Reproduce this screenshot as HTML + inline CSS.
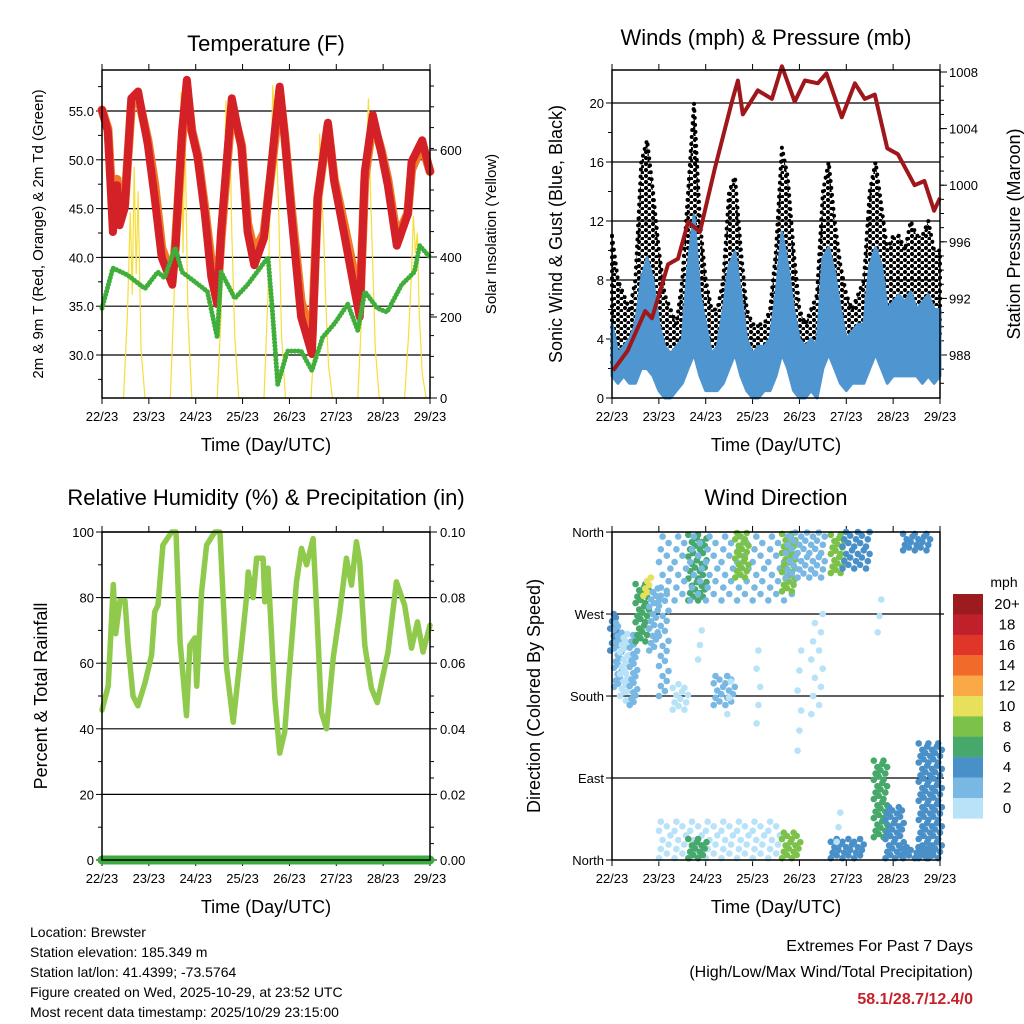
<!DOCTYPE html>
<html><head><meta charset="utf-8"><style>
html,body{margin:0;padding:0;background:#fff;}
svg{display:block;font-family:"Liberation Sans",sans-serif;}
</style></head><body>
<svg id="chart" width="1024" height="1024" viewBox="0 0 1024 1024" xmlns="http://www.w3.org/2000/svg">
<defs>
<pattern id="dots" width="7" height="6" patternUnits="userSpaceOnUse"><circle cx="2" cy="2" r="2.1" fill="#000"/><circle cx="5.5" cy="5" r="2.1" fill="#000"/></pattern>
</defs>
</svg>
<script>
// ---------- DATA ----------
const dayLabels = ["22/23","23/23","24/23","25/23","26/23","27/23","28/23","29/23"];
const tempTicks = [30,35,40,45,50,55];
const solarTickLabels = ["600","400","200","0"];
const solarTickVals = [600,400,200,0];
const windTicks = [0,4,8,12,16,20];
const presTicks = [988,992,996,1000,1004,1008];
const rhTicks = [0,20,40,60,80,100];
const rainTicks = ["0.00","0.02","0.04","0.06","0.08","0.10"];
const dirNames = ["North","East","South","West","North"];
const dirVals = [0,90,180,270,360];
const cbLabels = ["20+","18","16","14","12","10","8","6","4","2","0"];
const cbColors = ["#9b1b1e","#c0202a","#e0362a","#f26a2a","#f9a945","#e8e05a","#7cc24a","#46a86b","#4a90c8","#7ab8e4","#b8e2f8"];

const tempH = [0,3,5.6,7.7,9,11.7,15,18.5,23.5,27,30.6,36,37.5,41,43.5,46,49,52.7,56,59,61,66.5,71.5,74.6,78,83,88.5,91,93.6,97,102,107.5,110.5,115.7,119,124.4,129.5,132,134.6,138.7,143,146.4,151,156.6,158.6,164,168];
const tempRed = [55.1,52.9,42.6,47.4,43.3,45.1,56.3,57,51.5,46.1,40,37.2,40.5,52.9,58.2,52.9,50.2,44.4,38,35.2,42.6,56.3,51.2,42.6,39.2,42,52.9,57.5,52.4,44.4,33.9,30.1,46.1,53.8,47.7,42,36.5,33.9,48.8,54.6,50.8,47.4,41.2,44.4,49.8,52,48.8];
const tempOrange = [55.1,53.2,44.5,48,44,45.5,55.5,56.5,52,47.5,41,38,41,52,57.5,53,50.5,45,39.5,36,42,55.5,51.5,43.5,40.5,42.5,52,57,52.5,45,35.5,31.5,46,53.5,48,43,38,34.5,48,54,51,48,42,44.5,49,51.5,48.8];
const dewH = [0,5.6,13,22,28.6,32,37.5,41,47.6,54,59,61,68,74.6,85,87,90,95,102,107.5,113,119,125.9,131,134.6,141,146,153.5,160,162.7,168];
const dewT = [34.8,38.9,38.2,36.8,38.5,37.9,41,38.5,37.5,36.5,31.8,38.5,35.8,37.2,40,35.2,27,30.4,30.4,28.4,31.8,33.2,35.2,32.5,36.5,34.8,34.4,37.2,38.5,41.2,40];
const solarOff = [11,13,14.5,15.5,16.5,17.5,18.5,20,22];
const solarVals = [
 0,200,450,250,560,300,500,120,0,
 0,250,600,380,740,350,650,200,0,
 0,200,500,720,600,650,400,150,0,
 0,250,550,757,650,600,450,150,0,
 0,150,350,640,500,400,250,80,0,
 0,200,450,600,725,500,350,120,0,
 0,150,300,440,350,400,200,60,0];

const presH = [0.5,8,17,20.5,28.7,33.8,39,45,52.7,61.4,64.5,67,74.7,81.9,87,93.6,98.8,105.4,109.8,117.7,124.4,129.5,134.6,141,146.4,155,160,165,168];
const presV = [986.9,988.3,991.1,990.6,994.4,994.8,997.4,996.7,1001.2,1005.9,1007.4,1005,1006.7,1006.1,1008.4,1005.9,1007.4,1007.2,1007.9,1004.8,1007.2,1006.1,1006.4,1002.6,1002.2,1000,1000.3,998.2,999.1];
const windH = [0,3,6,9,12,15,18,21,24,27,30,33,36,39,42,45,48,51,54,57,60,63,66,69,72,75,78,81,84,87,90,93,96,99,102,105,108,111,114,117,120,123,126,129,132,135,138,141,144,147,150,153,156,159,162,165,168];
const windHi = [5,3,3.5,4,5,8,9.5,8,5,3.5,3,3.5,4,9,12.4,7,5,3,3.5,6,9,9.9,7,4,3,3.5,3.5,4,7,11.2,9,6,4,3.5,4,3.5,9.5,10.2,8.5,6,4,4.5,5,5,9,10.2,9,6,6.5,7,6.5,7.2,6,6.5,7,6,6];
const windLo = [1.5,1,1.5,1,1,2,2,1.5,0.5,0,0,0.5,1,2,3,1.5,0.5,0.5,0.5,1,2,3,1.5,0.5,0,0,0.5,0.5,1.5,3,2,0.5,0,0,0.5,0,2,3,2,1,0.5,1,1,1,2,3,2,1,1.5,1.5,1.5,1.5,1.5,1,1.5,1,1.5];
const gustHi = [11,8,7,6,8,16,17.5,14,10,7,6,5,8,14,20,12,8,6,6,8,14,15,10,6,5,5,5,6,10,17,15,10,6,5,6,7,14,16,12,9,7,6,7,8,14,16,13,10,11,11,10,12,11,11,12,10,10];
const gustLo = [2,2,2,1.5,2,4,5,3,2,1,0.5,1,2,4,6,3,2,1,1,2,5,6,3,1,0.5,0.5,1,1.5,3,6,4,2,1,0.5,1,1,5,6,4,2,1.5,2,2,3,5,7,5,4,4,4,4,4,4,4,4,4,4];

const rhH = [0,3.2,5.8,7,9.2,11.8,13.3,15.9,18.4,22,25.4,27,28.7,31.2,35.7,37.9,40,43.3,45,47.6,48.5,51,53.6,57.8,60.4,63.8,67.2,71.5,74,74.9,77.4,79.2,82.5,83.4,85,88.5,91,93.6,96.2,99.6,102.2,104.8,108.1,109.9,112.4,115,118.4,121.8,125.2,127.8,130.3,132,134.6,138,141,143.1,146.5,150.8,155,158.5,161.6,164.4,168];
const rhV = [45.7,53,84,69,79,79,66,50,47,54,62.5,75.6,77.7,96,100,100,66.5,44,65.5,67.7,53,81.7,96,100,100,58.5,42,65.5,80,87.8,80,92,92,78.7,89,49.4,32.6,39,59.5,84.8,95,90,98,76.8,45,40,61.6,75.6,92,83.8,97,91,65.5,52.4,48,54,63.4,84.8,77.7,64.6,72.6,63.4,71.6];
const rainV = [0,0];

// wind direction streaks: hour start/end, direction lo/hi (deg), speed (mph), dot step (deg), hour step
const stH0 = [0,2,5,8,10,13,17,20,25,32,40,25,53,64,88,90,103,113,119,150,25,40,88,113,135,141,150,158,60,45,75,96,116,137];
const stH1 = [2,4,7,9,12,18,20,24,30,39,48,95,64,70,94,110,110,119,131,162,85,48,96,130,141,150,166,169,62,47,77,98,118,139];
const stD0 = [230,190,180,175,170,240,290,230,180,165,285,285,170,310,295,310,160,315,320,340,2,2,2,2,25,2,2,2,160,220,150,120,20,250];
const stD1 = [270,260,250,235,250,305,310,300,300,195,360,360,205,360,360,360,275,360,360,360,45,25,30,25,110,60,15,130,200,260,240,230,60,300];
const stSpd = [4,2,1,1,2,6,10,3,2,1,7,3,3,8,9,3,0,8,4,5,1,6,8,5,7,4,4,4,0,1,0,0,1,1];
const stStep = [8,7,8,10,7,7,8,8,11,8,8,14,8,7,7,9,20,7,8,6,10,7,7,6,7,7,6,7,18,16,20,22,16,18];
const stHStep = [2,2,2,2,2,2.5,2,2.5,3,3,2.5,4,3,2.5,2.5,3,4,2.5,3,3,4,2.5,2.5,3,2.5,2.5,3,2.5,4,4,4,4,4,4];

// ---------- HELPERS ----------
const NS = "http://www.w3.org/2000/svg";
const svg = document.getElementById("chart");
function el(tag, attrs, parent, text) {
  const e = document.createElementNS(NS, tag);
  for (const k in attrs) e.setAttribute(k, attrs[k]);
  if (text !== undefined) e.textContent = text;
  (parent || svg).appendChild(e);
  return e;
}
const W = 328, H = 328;
const P1 = {x:102, y:70}, P2 = {x:612, y:70}, P3 = {x:102, y:532}, P4 = {x:612, y:532};
const xH = (p, h) => p.x + h * W / 168;
const yTemp = t => 111 + (55 - t) * 9.76;
const ySolar = v => 398 - v * 0.4133;
const yWind = w => 398 - w * 14.75;
const yPres = p => 355 - (p - 988) * 14.15;
const yRH = r => 860 - r * 3.28;
const yDir = d => 860 - d * 0.911;
const colorFor = s => cbColors[10 - Math.min(10, Math.floor(s / 2))];

function group(name) {
  const g = el("g", {});
  
  
  return g;
}
function txt(parent, name, x, y, s, opts) {
  const t = el("text", Object.assign({x:x, y:y, "font-size":13, fill:"#000"}, opts || {}), parent, s);
  
  
  return t;
}
function frame(p, name) {
  const g = group(name + "-frame");
  for (let i = 0; i < 8; i++) {
    const x = xH(p, i * 24);
    el("line", {x1:x, y1:p.y + H, x2:x, y2:p.y + H + 6, stroke:"#000", "stroke-width":1}, g);
    el("line", {x1:x, y1:p.y, x2:x, y2:p.y - 6, stroke:"#000", "stroke-width":1}, g);
    txt(g, "x-tick-label", x, p.y + H + 23, dayLabels[i], {"text-anchor":"middle"});
  }
  txt(g, "x-axis-title", p.x + W / 2, p.y + H + 53, "Time (Day/UTC)", {"text-anchor":"middle", "font-size":18});
  return g;
}
function box(p, name) {
  const r = el("rect", {x:p.x, y:p.y, width:W, height:H, fill:"none", stroke:"#000", "stroke-width":1.5});
  
  
}
function hgrid(g, y, x0) {
  el("line", {x1:x0, y1:y, x2:x0 + W, y2:y, stroke:"#000", "stroke-width":1.2}, g);
}
function polyPts(xs, ys) { return xs.map((v, i) => v.toFixed(1) + "," + ys[i].toFixed(1)).join(" "); }

// ---------- PANEL 1: TEMPERATURE ----------
{
  const p = P1;
  const g = frame(p, "temperature");
  txt(g, "temperature-title", p.x + W / 2, 51, "Temperature (F)", {"text-anchor":"middle", "font-size":22});
  for (const t of tempTicks) {
    const y = yTemp(t);
    hgrid(g, y, p.x);
    el("line", {x1:p.x - 6, y1:y, x2:p.x, y2:y, stroke:"#000"}, g);
    txt(g, "y-tick-label", p.x - 8, y + 5, t.toFixed(1), {"text-anchor":"end"});
  }
  for (let t = 27.5; t < 59; t += 5) { const y = yTemp(t); el("line", {x1:p.x - 4, y1:y, x2:p.x, y2:y, stroke:"#000"}, g); }
  for (let y = 398; y > 70; y -= 20.8) el("line", {x1:p.x + W, y1:y, x2:p.x + W + 4, y2:y, stroke:"#000"}, g);
  solarTickLabels.forEach((s, i) => {
    const ys = [150, 257, 317, 398][i];
    el("line", {x1:p.x + W, y1:ys, x2:p.x + W + 7, y2:ys, stroke:"#000"}, g);
    txt(g, "right-tick-label", p.x + W + 10, ys + 5, s);
  });
  txt(g, "y-axis-title", 0, 0, "2m & 9m T (Red, Orange) & 2m Td (Green)", {"text-anchor":"middle", "font-size":15, transform:"translate(43,234) rotate(-90)"});
  txt(g, "right-axis-title", 0, 0, "Solar Insolation (Yellow)", {"text-anchor":"middle", "font-size":15, transform:"translate(496,234) rotate(-90)"});
  const sx = [], sy = [];
  for (let d = 0; d < 7; d++) for (let k = 0; k < solarOff.length; k++) {
    sx.push(xH(p, d * 24 + solarOff[k])); sy.push(ySolar(solarVals[d * 9 + k]));
  }
  const sl = el("polyline", {points:polyPts(sx, sy), fill:"none", stroke:"#f7dd3a", "stroke-width":1.2});
  
  
  const ol = el("polyline", {points:polyPts(tempH.map(h => xH(p, h)), tempOrange.map(yTemp)), fill:"none", stroke:"#f07a28", "stroke-width":9, "stroke-linejoin":"round", "stroke-linecap":"round"});
  
  
  const rl = el("polyline", {points:polyPts(tempH.map(h => xH(p, h)), tempRed.map(yTemp)), fill:"none", stroke:"#d42027", "stroke-width":8, "stroke-linejoin":"round", "stroke-linecap":"round"});
  
  
  const dl = el("polyline", {points:polyPts(dewH.map(h => xH(p, h)), dewT.map(yTemp)), fill:"none", stroke:"#3fae3a", "stroke-width":5, "stroke-dasharray":"0 3.5", "stroke-linecap":"round", "stroke-linejoin":"round"});
  
  
  box(p, "temperature");
}

// ---------- PANEL 2: WINDS & PRESSURE ----------
{
  const p = P2;
  const g = frame(p, "winds");
  txt(g, "winds-title", p.x + W / 2 - 10, 45, "Winds (mph) & Pressure (mb)", {"text-anchor":"middle", "font-size":22});
  for (const w of windTicks) {
    const y = yWind(w);
    if (w > 0) hgrid(g, y, p.x);
    el("line", {x1:p.x - 6, y1:y, x2:p.x, y2:y, stroke:"#000"}, g);
    txt(g, "y-tick-label", p.x - 8, y + 5, String(w), {"text-anchor":"end"});
  }
  for (let w = 2; w < 22; w += 4) { const y = yWind(w); el("line", {x1:p.x - 4, y1:y, x2:p.x, y2:y, stroke:"#000"}, g); }
  for (let pr = 986; pr <= 1009; pr++) { const y = yPres(pr); if (y > 70 && y < 398) el("line", {x1:p.x + W, y1:y, x2:p.x + W + 4, y2:y, stroke:"#000"}, g); }
  for (const pr of presTicks) {
    const y = yPres(pr);
    el("line", {x1:p.x + W, y1:y, x2:p.x + W + 7, y2:y, stroke:"#000"}, g);
    txt(g, "right-tick-label", p.x + W + 9, y + 5, String(pr));
  }
  txt(g, "y-axis-title", 0, 0, "Sonic Wind & Gust (Blue, Black)", {"text-anchor":"middle", "font-size":18, transform:"translate(562,234) rotate(-90)"});
  txt(g, "right-axis-title", 0, 0, "Station Pressure (Maroon)", {"text-anchor":"middle", "font-size":18, transform:"translate(1020,234) rotate(-90)"});
  const xs = windH.map(h => xH(p, h));
  const gPts = polyPts(xs, gustHi.map(yWind)) + " " + polyPts(xs.slice().reverse(), gustLo.slice().reverse().map(yWind));
  const ga = el("polygon", {points:gPts, fill:"url(#dots)", stroke:"#000", "stroke-width":4, "stroke-dasharray":"0 7", "stroke-linecap":"round", "stroke-linejoin":"round"});
  
  
  const wPts = polyPts(xs, windHi.map(yWind)) + " " + polyPts(xs.slice().reverse(), windLo.slice().reverse().map(yWind));
  const wa = el("polygon", {points:wPts, fill:"#4f96d1", stroke:"#4f96d1", "stroke-width":3, "stroke-linejoin":"round"});
  
  
  const pl = el("polyline", {points:polyPts(presH.map(h => xH(p, h)), presV.map(yPres)), fill:"none", stroke:"#a0171b", "stroke-width":4, "stroke-linejoin":"round"});
  
  
  box(p, "winds");
}

// ---------- PANEL 3: RH & PRECIP ----------
{
  const p = P3;
  const g = frame(p, "humidity");
  txt(g, "humidity-title", p.x + W / 2, 505, "Relative Humidity (%) & Precipitation (in)", {"text-anchor":"middle", "font-size":22});
  rhTicks.forEach((r, i) => {
    const y = yRH(r);
    hgrid(g, y, p.x);
    el("line", {x1:p.x - 6, y1:y, x2:p.x, y2:y, stroke:"#000"}, g);
    txt(g, "y-tick-label", p.x - 8, y + 5, String(r), {"text-anchor":"end"});
    el("line", {x1:p.x + W, y1:y, x2:p.x + W + 7, y2:y, stroke:"#000"}, g);
    txt(g, "right-tick-label", p.x + W + 10, y + 5, rainTicks[i]);
  });
  for (let r = 10; r < 100; r += 20) { const y = yRH(r); el("line", {x1:p.x - 4, y1:y, x2:p.x, y2:y, stroke:"#000"}, g); el("line", {x1:p.x + W, y1:y, x2:p.x + W + 4, y2:y, stroke:"#000"}, g); }
  for (let r = 5; r < 100; r += 20) { const y = yRH(r); el("line", {x1:p.x + W, y1:y, x2:p.x + W + 4, y2:y, stroke:"#000"}, g); }
  txt(g, "y-axis-title", 0, 0, "Percent & Total Rainfall", {"text-anchor":"middle", "font-size":18, transform:"translate(47,696) rotate(-90)"});
  const rl = el("polyline", {points:polyPts(rhH.map(h => xH(p, h)), rhV.map(yRH)), fill:"none", stroke:"#8fca4c", "stroke-width":5.5, "stroke-linejoin":"round", "stroke-linecap":"round"});
  
  
  const pr = el("line", {x1:xH(p, 0), y1:yRH(rainV[0] * 1000), x2:xH(p, 168), y2:yRH(rainV[1] * 1000), stroke:"#3cac3f", "stroke-width":9, "stroke-linecap":"round"});
  
  
  box(p, "humidity");
}

// ---------- PANEL 4: WIND DIRECTION ----------
{
  const p = P4;
  const g = frame(p, "direction");
  txt(g, "direction-title", p.x + W / 2, 505, "Wind Direction", {"text-anchor":"middle", "font-size":22});
  dirVals.forEach((d, i) => {
    const y = yDir(d);
    if (d > 0 && d < 360) { el("line", {x1:p.x, y1:y, x2:p.x + W + 4, y2:y, stroke:"#000", "stroke-width":1.2}, g); }
    el("line", {x1:p.x - 6, y1:y, x2:p.x, y2:y, stroke:"#000"}, g);
    txt(g, "y-tick-label", p.x - 8, y + 5, dirNames[i], {"text-anchor":"end"});
  });
  txt(g, "y-axis-title", 0, 0, "Direction (Colored By Speed)", {"text-anchor":"middle", "font-size":18, transform:"translate(540,696) rotate(-90)"});
  const sg = group("direction-scatter");
  for (let i = 0; i < stH0.length; i++) {
    let col = 0;
    for (let h = stH0[i]; h <= stH1[i] + 0.01; h += stHStep[i]) {
      const off = (col % 2) * stStep[i] / 2;
      let k = 0;
      for (let d = stD0[i] + off; d <= stD1[i]; d += stStep[i]) {
        const xj = ((k % 3) - 1) * 1.8;
        el("circle", {cx:(xH(p, h) + xj).toFixed(1), cy:yDir(Math.min(360, d)).toFixed(1), r:3.3, fill:colorFor(stSpd[i])}, sg);
        k++;
      }
      col++;
    }
  }
  box(p, "direction");
  const cb = group("speed-colorbar");
  txt(cb, "colorbar-title", 1004, 587, "mph", {"text-anchor":"middle", "font-size":14});
  cbColors.forEach((c, i) => {
    el("rect", {x:953, y:(594 + i * 20.4).toFixed(1), width:30, height:20.6, fill:c}, cb);
    txt(cb, "colorbar-label", 1007, 594 + i * 20.4 + 15, cbLabels[i], {"text-anchor":"middle", "font-size":15});
  });
}

// ---------- FOOTER ----------
{
  const g = group("station-info");
  const lines = ["Location: Brewster","Station elevation: 185.349 m","Station lat/lon: 41.4399; -73.5764","Figure created on Wed, 2025-10-29, at 23:52 UTC","Most recent data timestamp: 2025/10/29 23:15:00"];
  lines.forEach((s, i) => txt(g, "info-line", 30, 937 + i * 20, s, {"font-size":14}));
  const e = group("extremes-summary");
  txt(e, "extremes-heading", 973, 951, "Extremes For Past 7 Days", {"text-anchor":"end", "font-size":16});
  txt(e, "extremes-subheading", 973, 977, "(High/Low/Max Wind/Total Precipitation)", {"text-anchor":"end", "font-size":16});
  txt(e, "extremes-values", 973, 1004, "58.1/28.7/12.4/0", {"text-anchor":"end", "font-size":16, "font-weight":"bold", fill:"#c8202a"});
}
</script>
</body></html>
